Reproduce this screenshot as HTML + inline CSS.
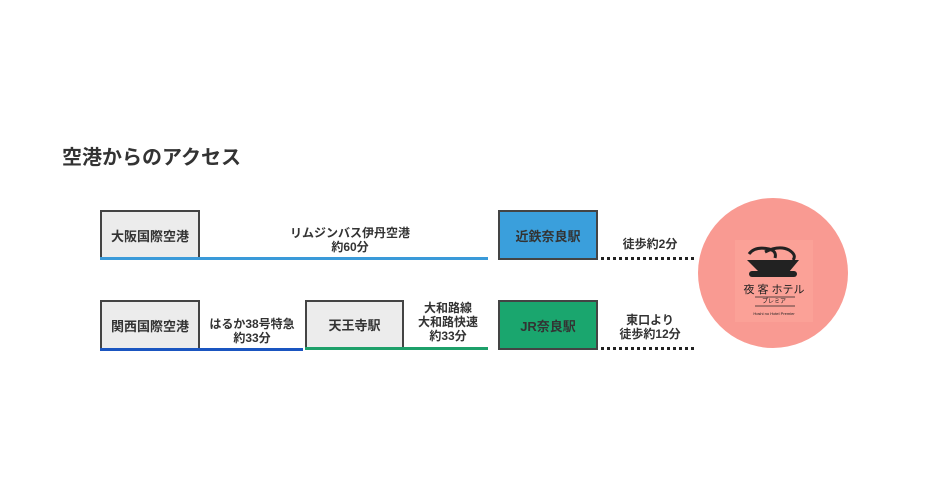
<!DOCTYPE html>
<html><head><meta charset="utf-8"><style>
body{margin:0;width:950px;height:500px;background:#fff;font-family:"Liberation Sans","Noto Sans CJK JP",sans-serif;position:relative;overflow:hidden;color:#333}
.a{position:absolute}
.box{position:absolute;box-sizing:border-box;border:2px solid #444;border-bottom:none;background:#ececec;font-size:13px;font-weight:bold;color:#333;display:flex;align-items:center;justify-content:center}
.t{position:absolute;font-size:12px;font-weight:bold;text-align:center;line-height:14px;color:#333}
.dot{position:absolute;height:0;border-top:3px dotted #222}
</style></head><body>
<div class="a" style="left:62px;top:141px;font-size:20px;font-weight:bold;color:#333">空港からのアクセス</div>

<div class="box" style="left:100px;top:210px;width:100px;height:48px">大阪国際空港</div>
<div class="a" style="left:100px;top:257px;width:388px;height:3px;background:#3a9ad9"></div>
<div class="t" style="left:240px;top:226px;width:220px">リムジンバス伊丹空港<br>約60分</div>
<div class="box" style="left:498px;top:210px;width:100px;height:50px;background:#3a9fdc;border-bottom:2px solid #444">近鉄奈良駅</div>
<div class="t" style="left:600px;top:237px;width:100px">徒歩約2分</div>
<div class="dot" style="left:601px;top:257px;width:93px"></div>

<div class="box" style="left:100px;top:300px;width:100px;height:48px">関西国際空港</div>
<div class="a" style="left:100px;top:348px;width:203px;height:3px;background:#1a55c0"></div>
<div class="t" style="left:200px;top:317px;width:104px">はるか38号特急<br>約33分</div>
<div class="box" style="left:305px;top:300px;width:99px;height:47px">天王寺駅</div>
<div class="a" style="left:305px;top:347px;width:183px;height:3px;background:#1da06a"></div>
<div class="t" style="left:404px;top:301px;width:88px">大和路線<br>大和路快速<br>約33分</div>
<div class="box" style="left:498px;top:300px;width:100px;height:50px;background:#1aa66e;border-bottom:2px solid #444">JR奈良駅</div>
<div class="t" style="left:600px;top:313px;width:100px">東口より<br>徒歩約12分</div>
<div class="dot" style="left:601px;top:347px;width:93px"></div>

<div class="a" style="left:698px;top:198px;width:150px;height:150px;border-radius:50%;background:#f99a92"></div>
<div class="a" style="left:735px;top:240px;width:78px;height:82px;background:#fba197"></div>
<svg class="a" style="left:735px;top:240px" width="78" height="82" viewBox="0 0 78 82">
<path d="M14 14 Q20 6 34 9 Q42 11 40 18" fill="none" stroke="#222" stroke-width="3"/>
<path d="M30 12 Q44 5 54 10 Q62 15 58 20" fill="none" stroke="#222" stroke-width="3"/>
<path d="M12 20 L64 20 L54 32 L24 32 Z" fill="#222"/>
<rect x="14" y="31" width="48" height="6" rx="3" fill="#222"/>
<text x="39" y="53" font-size="11" text-anchor="middle" fill="#222" font-family="Liberation Sans,Noto Sans CJK JP,sans-serif">夜 客 ホテル</text>
<line x1="20" y1="57" x2="60" y2="57" stroke="#222" stroke-width="0.8"/>
<text x="39" y="63" font-size="6" text-anchor="middle" fill="#222" font-family="Liberation Sans,Noto Sans CJK JP,sans-serif">プレミア</text>
<line x1="20" y1="66" x2="60" y2="66" stroke="#222" stroke-width="0.8"/>
<text x="39" y="75" font-size="4" text-anchor="middle" fill="#222" font-family="Liberation Sans,sans-serif">Hoshi no Hotel Premier</text>
</svg>
</body></html>
